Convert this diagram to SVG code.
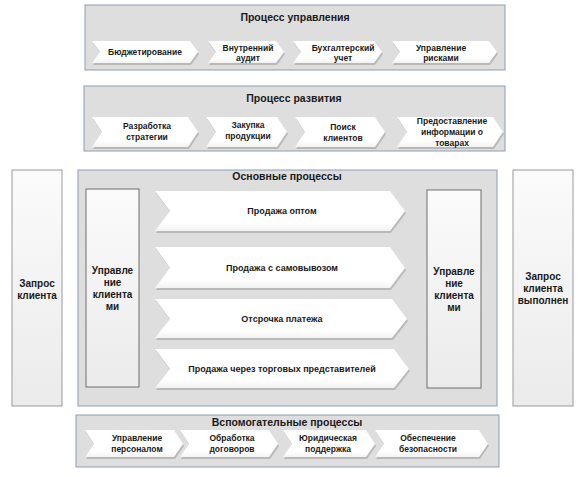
<svg xmlns="http://www.w3.org/2000/svg" width="586" height="477" viewBox="0 0 586 477">
<defs>
<linearGradient id="gTall" x1="0" y1="0" x2="0" y2="1"><stop offset="0" stop-color="#fbfbfb"/><stop offset="1" stop-color="#ebebeb"/></linearGradient>
<linearGradient id="gChev" x1="0" y1="0" x2="0" y2="1"><stop offset="0" stop-color="#ffffff"/><stop offset="0.8" stop-color="#ffffff"/><stop offset="1" stop-color="#f2f2f2"/></linearGradient>
<style>
.panel{fill:#dedede;stroke:#8e9db3;stroke-width:1}
.tall{fill:url(#gTall);stroke:#9a9a9a;stroke-width:1}
.inner{fill:url(#gTall);stroke:#6e6e6e;stroke-width:1}
.chev{fill:url(#gChev)}
.shadow{fill:#a9a9a9;opacity:0.7}
text{font-family:"Liberation Sans",Arial,sans-serif;font-weight:bold;fill:#1a1a1a;text-anchor:middle}
.title{font-size:10.5px}
.small{font-size:8.5px}
.mid{font-size:9px}
.side{font-size:10px}
</style>
</defs>
<rect width="586" height="477" fill="#ffffff"/>

<g id="control">
<rect class="panel" x="85" y="5" width="420" height="65"/>
<text class="title" x="295" y="21">Процесс управления</text>
<g id="c-budget"><polygon class="shadow" points="93,43 191,43 199,54 191,65 93,65 101,54"/><polygon class="chev" points="92,41 190,41 198,52 190,63 92,63 100,52"/><text class="small" x="145" y="55">Бюджетирование</text></g>
<g id="c-audit"><polygon class="shadow" points="209,43 277,43 285,54 277,65 209,65 217,54"/><polygon class="chev" points="208,41 276,41 284,52 276,63 208,63 216,52"/><text class="small" x="248" y="51">Внутренний</text><text class="small" x="248" y="61">аудит</text></g>
<g id="c-account"><polygon class="shadow" points="294,43 375,43 383,54 375,65 294,65 302,54"/><polygon class="chev" points="293,41 374,41 382,52 374,63 293,63 301,52"/><text class="small" x="343" y="51">Бухгалтерский</text><text class="small" x="343" y="61">учет</text></g>
<g id="c-risk"><polygon class="shadow" points="393,43 490,43 498,54 490,65 393,65 401,54"/><polygon class="chev" points="392,41 489,41 497,52 489,63 392,63 400,52"/><text class="small" x="441" y="51">Управление</text><text class="small" x="441" y="61">рисками</text></g>
</g>

<g id="development">
<rect class="panel" x="84" y="86" width="421" height="65"/>
<text class="title" x="294" y="102">Процесс развития</text>
<g id="d-strategy"><polygon class="shadow" points="93,119 189,119 199,134 189,149 93,149 103,134"/><polygon class="chev" points="92,117 188,117 198,132 188,147 92,147 102,132"/><text class="small" x="147" y="129">Разработка</text><text class="small" x="147" y="140">стратегии</text></g>
<g id="d-purchase"><polygon class="shadow" points="207,119 278,119 288,134 278,149 207,149 217,134"/><polygon class="chev" points="206,117 277,117 287,132 277,147 206,147 216,132"/><text class="small" x="248" y="128">Закупка</text><text class="small" x="248" y="139">продукции</text></g>
<g id="d-clients"><polygon class="shadow" points="296,119 376,119 386,134 376,149 296,149 306,134"/><polygon class="chev" points="295,117 375,117 385,132 375,147 295,147 305,132"/><text class="small" x="343" y="130">Поиск</text><text class="small" x="343" y="141">клиентов</text></g>
<g id="d-info"><polygon class="shadow" points="398,119 494,119 504,134 494,149 398,149 408,134"/><polygon class="chev" points="397,117 493,117 503,132 493,147 397,147 407,132"/><text class="small" x="452" y="124">Предоставление</text><text class="small" x="452" y="135">информации о</text><text class="small" x="452" y="146">товарах</text></g>
</g>

<g id="main">
<rect class="panel" x="78" y="170" width="419" height="236"/>
<text class="title" x="287" y="180">Основные процессы</text>
<g id="m-wholesale"><polygon class="shadow" points="156,193 391,193 406,213 391,233 156,233 171,213"/><polygon class="chev" points="155,191 390,191 405,211 390,231 155,231 170,211"/><text class="mid" x="282" y="214">Продажа оптом</text></g>
<g id="m-pickup"><polygon class="shadow" points="156,249 391,249 406,270 391,290 156,290 171,270"/><polygon class="chev" points="155,247 390,247 405,268 390,288 155,288 170,268"/><text class="mid" x="282" y="271">Продажа с самовывозом</text></g>
<g id="m-deferral"><polygon class="shadow" points="156,301 393,301 408,321 393,340 156,340 171,321"/><polygon class="chev" points="155,299 392,299 407,319 392,338 155,338 170,319"/><text class="mid" x="282" y="322">Отсрочка платежа</text></g>
<g id="m-agents"><polygon class="shadow" points="156,351 395,351 410,371 395,390 156,390 171,371"/><polygon class="chev" points="155,349 394,349 409,369 394,388 155,388 170,369"/><text class="mid" x="282" y="372">Продажа через торговых представителей</text></g>
<g id="crm-left"><rect class="inner" x="86" y="189" width="53" height="198"/><text class="side" x="112.5" y="274">Управле</text><text class="side" x="112.5" y="286">ние</text><text class="side" x="112.5" y="298">клиента</text><text class="side" x="112.5" y="310">ми</text></g>
<g id="crm-right"><rect class="inner" x="427" y="190" width="54" height="198"/><text class="side" x="454" y="275">Управле</text><text class="side" x="454" y="287">ние</text><text class="side" x="454" y="299">клиента</text><text class="side" x="454" y="311">ми</text></g>
</g>

<g id="request">
<rect class="tall" x="12" y="170" width="50" height="236"/>
<text class="side" x="37" y="287">Запрос</text><text class="side" x="37" y="299">клиента</text>
</g>

<g id="done">
<rect class="tall" x="513" y="170" width="60" height="236"/>
<text class="side" x="543" y="280">Запрос</text><text class="side" x="543" y="292">клиента</text><text class="side" x="543" y="304">выполнен</text>
</g>

<g id="support">
<rect class="panel" x="76" y="415" width="423" height="52"/>
<text class="title" x="287" y="426">Вспомогательные процессы</text>
<g id="s-staff"><polygon class="shadow" points="86,432 175,432 184,446 175,459 86,459 95,446"/><polygon class="chev" points="85,430 174,430 183,444 174,457 85,457 94,444"/><text class="small" x="137" y="441">Управление</text><text class="small" x="137" y="452">персоналом</text></g>
<g id="s-contracts"><polygon class="shadow" points="181,432 270,432 279,446 270,459 181,459 190,446"/><polygon class="chev" points="180,430 269,430 278,444 269,457 180,457 189,444"/><text class="small" x="232" y="441">Обработка</text><text class="small" x="232" y="452">договоров</text></g>
<g id="s-legal"><polygon class="shadow" points="284,432 367,432 376,446 367,459 284,459 293,446"/><polygon class="chev" points="283,430 366,430 375,444 366,457 283,457 292,444"/><text class="small" x="328" y="441">Юридическая</text><text class="small" x="328" y="452">поддержка</text></g>
<g id="s-security"><polygon class="shadow" points="376,432 480,432 489,446 480,459 376,459 385,446"/><polygon class="chev" points="375,430 479,430 488,444 479,457 375,457 384,444"/><text class="small" x="428" y="441">Обеспечение</text><text class="small" x="428" y="452">безопасности</text></g>
</g>
</svg>
